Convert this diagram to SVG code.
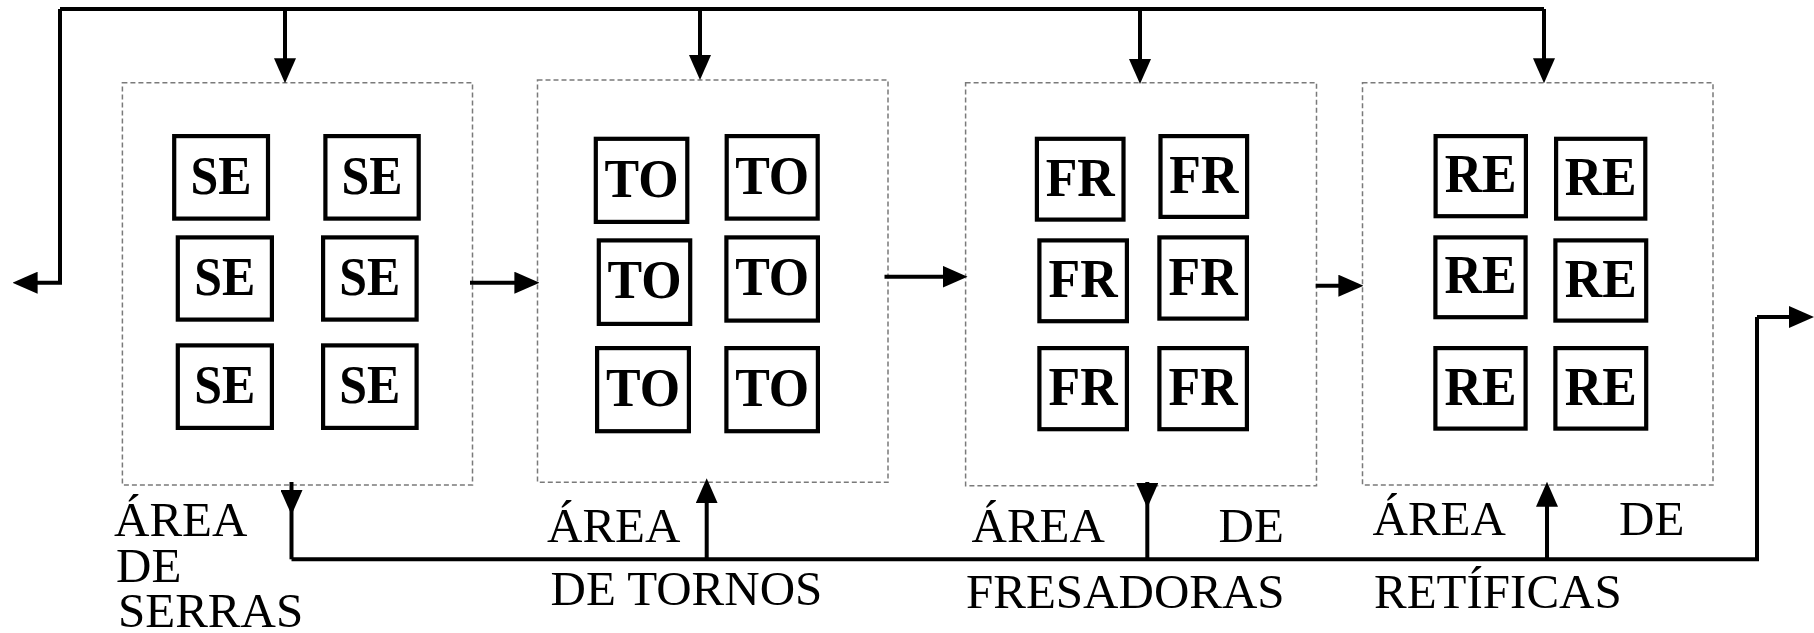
<svg xmlns="http://www.w3.org/2000/svg" width="1814" height="633" viewBox="0 0 1814 633">
<style>
.area{fill:none;stroke:#7a7a7a;stroke-width:1.5;stroke-dasharray:5 3}
.m{fill:#fff;stroke:#000;stroke-width:4.2}
.mt{font-family:"Liberation Serif","Times New Roman",serif;font-weight:bold;font-size:54px;text-anchor:middle;fill:#000}
.lbl{font-family:"Liberation Serif","Times New Roman",serif;font-size:49px;fill:#000}
.c{fill:none;stroke:#000;stroke-width:4}
.a{fill:none;stroke:#000;stroke-width:4;marker-end:url(#ah)}
</style>
<defs>
<marker id="ah" markerUnits="userSpaceOnUse" viewBox="0 0 25 22" markerWidth="25" markerHeight="22" refX="19" refY="11" orient="auto">
<path d="M0,0 L25,11 L0,22 Z" fill="#000"/>
</marker>
</defs>
<rect width="1814" height="633" fill="#fff"/>

<g id="area-serras">
<rect class="area" x="122.4" y="82.7" width="350.1" height="402.3"/>
<g id="se1"><rect class="m" x="174.2" y="136.1" width="93.8" height="82.5"/><text class="mt" x="221" y="194" textLength="61" lengthAdjust="spacingAndGlyphs">SE</text></g>
<g id="se2"><rect class="m" x="325.4" y="136.1" width="93.3" height="82.5"/><text class="mt" x="372" y="194" textLength="61" lengthAdjust="spacingAndGlyphs">SE</text></g>
<g id="se3"><rect class="m" x="177.8" y="237.4" width="94.1" height="82.2"/><text class="mt" x="224.8" y="294.5" textLength="61" lengthAdjust="spacingAndGlyphs">SE</text></g>
<g id="se4"><rect class="m" x="323.1" y="237.4" width="93.5" height="82.2"/><text class="mt" x="369.8" y="294.5" textLength="61" lengthAdjust="spacingAndGlyphs">SE</text></g>
<g id="se5"><rect class="m" x="177.8" y="345.4" width="94.1" height="82.5"/><text class="mt" x="224.8" y="402.5" textLength="61" lengthAdjust="spacingAndGlyphs">SE</text></g>
<g id="se6"><rect class="m" x="323.1" y="345.4" width="93.5" height="82.5"/><text class="mt" x="369.8" y="402.5" textLength="61" lengthAdjust="spacingAndGlyphs">SE</text></g>
<text class="lbl" x="114" y="536">ÁREA</text>
<text class="lbl" x="116" y="581.7">DE</text>
<text class="lbl" x="118" y="627">SERRAS</text>
</g>

<g id="area-tornos">
<rect class="area" x="537.5" y="80" width="350.5" height="402.3"/>
<g id="to1"><rect class="m" x="595.8" y="138.8" width="91.5" height="83.1"/><text class="mt" x="641.5" y="197" textLength="74" lengthAdjust="spacingAndGlyphs">TO</text></g>
<g id="to2"><rect class="m" x="726.7" y="136.1" width="91" height="82.5"/><text class="mt" x="772.2" y="193.5" textLength="74" lengthAdjust="spacingAndGlyphs">TO</text></g>
<g id="to3"><rect class="m" x="598.8" y="240.4" width="91.4" height="83.5"/><text class="mt" x="644.5" y="298" textLength="74" lengthAdjust="spacingAndGlyphs">TO</text></g>
<g id="to4"><rect class="m" x="726.4" y="237.4" width="91.5" height="83.2"/><text class="mt" x="772.2" y="294.5" textLength="74" lengthAdjust="spacingAndGlyphs">TO</text></g>
<g id="to5"><rect class="m" x="597.1" y="348.1" width="91.8" height="83.1"/><text class="mt" x="643" y="405.5" textLength="74" lengthAdjust="spacingAndGlyphs">TO</text></g>
<g id="to6"><rect class="m" x="726.4" y="348.1" width="91.5" height="83.1"/><text class="mt" x="772.2" y="405.5" textLength="74" lengthAdjust="spacingAndGlyphs">TO</text></g>
<text class="lbl" x="547" y="541.7">ÁREA</text>
<text class="lbl" x="550.5" y="605">DE TORNOS</text>
</g>

<g id="area-fresadoras">
<rect class="area" x="965.6" y="82.7" width="350.9" height="403"/>
<g id="fr1"><rect class="m" x="1036.9" y="138.8" width="86.6" height="80.8"/><text class="mt" x="1080.2" y="195.5" textLength="69" lengthAdjust="spacingAndGlyphs">FR</text></g>
<g id="fr2"><rect class="m" x="1160.5" y="136.1" width="86.6" height="80.8"/><text class="mt" x="1203.8" y="193" textLength="69" lengthAdjust="spacingAndGlyphs">FR</text></g>
<g id="fr3"><rect class="m" x="1039.4" y="240.4" width="87.5" height="80.8"/><text class="mt" x="1083.1" y="297" textLength="69" lengthAdjust="spacingAndGlyphs">FR</text></g>
<g id="fr4"><rect class="m" x="1159.4" y="237.4" width="87.5" height="81.2"/><text class="mt" x="1203.1" y="294.5" textLength="69" lengthAdjust="spacingAndGlyphs">FR</text></g>
<g id="fr5"><rect class="m" x="1039.4" y="348.1" width="87.5" height="81.1"/><text class="mt" x="1083.1" y="405" textLength="69" lengthAdjust="spacingAndGlyphs">FR</text></g>
<g id="fr6"><rect class="m" x="1159.4" y="348.1" width="87.5" height="81.1"/><text class="mt" x="1203.1" y="405" textLength="69" lengthAdjust="spacingAndGlyphs">FR</text></g>
<text class="lbl" x="971.5" y="541.7">ÁREA</text>
<text class="lbl" x="1218.5" y="541.7">DE</text>
<text class="lbl" x="966" y="608.3">FRESADORAS</text>
</g>

<g id="area-retificas">
<rect class="area" x="1362.5" y="82.7" width="350.5" height="402.3"/>
<g id="re1"><rect class="m" x="1435.6" y="136.1" width="90.3" height="80.1"/><text class="mt" x="1480.7" y="192" textLength="72" lengthAdjust="spacingAndGlyphs">RE</text></g>
<g id="re2"><rect class="m" x="1556.1" y="138.8" width="89.2" height="79.8"/><text class="mt" x="1600.7" y="195" textLength="72" lengthAdjust="spacingAndGlyphs">RE</text></g>
<g id="re3"><rect class="m" x="1435.4" y="237.4" width="90.2" height="79.8"/><text class="mt" x="1480.5" y="293" textLength="72" lengthAdjust="spacingAndGlyphs">RE</text></g>
<g id="re4"><rect class="m" x="1555.4" y="240.4" width="90.8" height="80.2"/><text class="mt" x="1600.8" y="296.5" textLength="72" lengthAdjust="spacingAndGlyphs">RE</text></g>
<g id="re5"><rect class="m" x="1435.4" y="348.1" width="90.2" height="80.5"/><text class="mt" x="1480.5" y="404.5" textLength="72" lengthAdjust="spacingAndGlyphs">RE</text></g>
<g id="re6"><rect class="m" x="1555.4" y="348.1" width="90.8" height="80.5"/><text class="mt" x="1600.8" y="404.5" textLength="72" lengthAdjust="spacingAndGlyphs">RE</text></g>
<text class="lbl" x="1372.5" y="535">ÁREA</text>
<text class="lbl" x="1619" y="535">DE</text>
<text class="lbl" x="1374" y="608.3">RETÍFICAS</text>
</g>

<g id="connectors">
<path class="c" d="M60,9 H1544"/>
<path class="a" d="M60,9 V282.7 H18.6"/>
<path class="a" d="M285,9 V77.3"/>
<path class="a" d="M700,9 V74"/>
<path class="a" d="M1140,9 V78"/>
<path class="a" d="M1544,9 V77.3"/>
<path class="a" d="M470,282.7 H533.4"/>
<path class="a" d="M884.5,276.7 H961.5"/>
<path class="a" d="M1315.7,285.7 H1357.4"/>
<path class="c" d="M291.5,559.3 H1757 V317"/>
<path class="a" d="M1757,317 H1808"/>
<path class="a" d="M291.5,482 V509"/>
<path class="c" d="M291.5,505 V559.3"/>
<path class="a" d="M1147.3,482 V502"/>
<path class="c" d="M1147.3,498 V559.3"/>
<path class="a" d="M706.7,559.3 V484.3"/>
<path class="a" d="M1547,559.3 V487.7"/>
</g>
</svg>
